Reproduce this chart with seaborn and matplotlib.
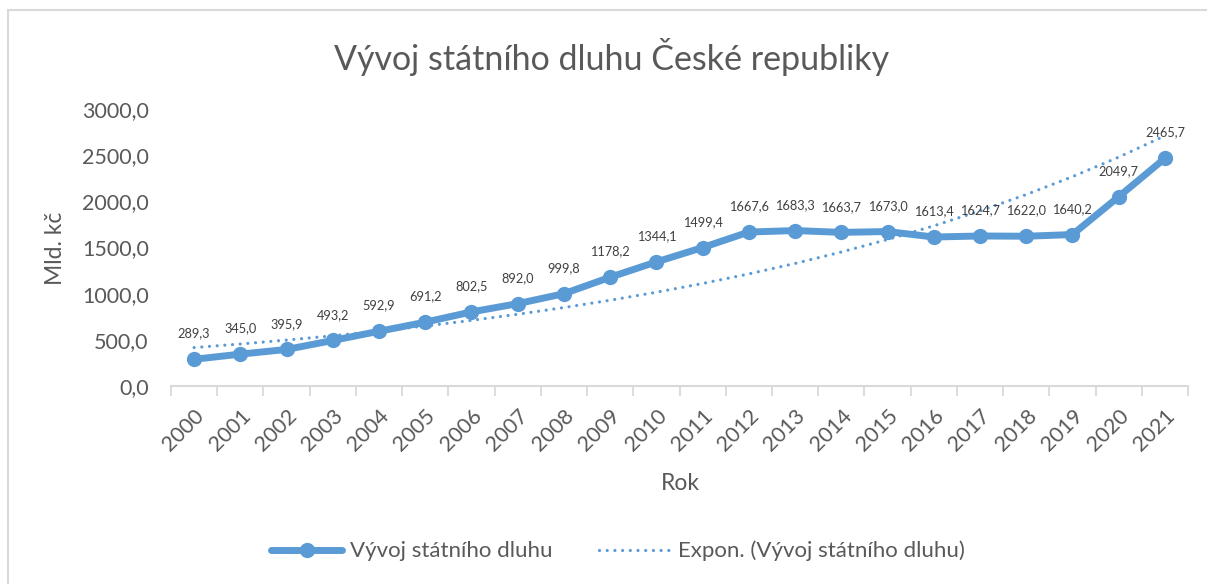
import numpy as np
import pandas as pd
import seaborn as sns
import matplotlib
matplotlib.use("Agg")
import matplotlib.pyplot as plt
from matplotlib.ticker import FuncFormatter, FixedLocator
from matplotlib.patches import Rectangle
from matplotlib.lines import Line2D

years = [str(y) for y in range(2000, 2022)]
debt = [289.3, 345.0, 395.9, 493.2, 592.9, 691.2, 802.5, 892.0, 999.8, 1178.2,
        1344.1, 1499.4, 1667.6, 1683.3, 1663.7, 1673.0, 1613.4, 1624.7, 1622.0,
        1640.2, 2049.7, 2465.7]
title = "Vývoj státního dluhu České republiky"
series_label = "Vývoj státního dluhu"
trend_label = "Expon. (Vývoj státního dluhu)"
x_label = "Rok"
y_label = "Mld. kč"

sns.set_theme(style="white")
plt.rcParams['font.family'] = ['Lato', 'DejaVu Sans']

blue = "#5B9BD5"
txt = "#595959"
dots = (0, (0.01, 2.4))

idx = np.arange(len(years))
df = pd.DataFrame({"pos": idx, "debt": debt})

# exponential trendline (least squares on log values, like Excel)
b, a = np.polyfit(idx + 1, np.log(df["debt"].values), 1)
df["trend"] = np.exp(a) * np.exp(b * (idx + 1))

W, H = 1207, 584
fig = plt.figure(figsize=(W / 100, H / 100), dpi=100)
ax = fig.add_axes([171 / W, 1 - 386 / H, (1188 - 171) / W, (386 - 109) / H])

sns.lineplot(data=df, x="pos", y="trend", ax=ax, color=blue, lw=2.3,
             linestyle=dots)
ax.lines[-1].set_dash_capstyle("round")
sns.lineplot(data=df, x="pos", y="debt", ax=ax, color=blue, lw=5,
             marker="o", markersize=11, markeredgewidth=0)

for i, v in enumerate(debt):
    ax.annotate(f"{v:.1f}".replace(".", ","), (i, v), xytext=(0, 18.5),
                textcoords="offset points", ha="center", va="center",
                fontsize=9.2, color="#404040")

ax.set_xlim(-0.5, len(years) - 0.5)
ax.set_ylim(0, 3000)
ax.set_yticks(np.arange(0, 3001, 500))
ax.yaxis.set_major_formatter(FuncFormatter(lambda v, p: f"{v:.1f}".replace(".", ",")))
ax.set_xticks(idx)
ax.set_xticklabels(years, rotation=45, ha="right", rotation_mode="anchor")
ax.xaxis.set_minor_locator(FixedLocator(np.arange(-0.5, len(years), 1)))
ax.tick_params(axis="x", which="major", length=0, pad=14, labelsize=15.5, labelcolor=txt)
ax.tick_params(axis="x", which="minor", length=7, width=1.3, color="#D9D9D9", bottom=True)
ax.tick_params(axis="y", length=0, pad=16, labelsize=15.5, labelcolor=txt)
ax.set_xlabel("")
ax.set_ylabel("")
for s in ["top", "right", "left"]:
    ax.spines[s].set_visible(False)
ax.spines["bottom"].set_color("#D9D9D9")
ax.spines["bottom"].set_linewidth(1.5)
ax.grid(False)

fig.text(612 / W, 1 - 57 / H, title, ha="center", va="center", fontsize=24.5, color=txt)
fig.text(680 / W, 1 - 483 / H, x_label, ha="center", va="center", fontsize=16.5, color=txt)
fig.text(55 / W, 1 - 248 / H, y_label, ha="center", va="center", fontsize=16.5,
         color=txt, rotation=90)

fig.patches.append(Rectangle((8 / W, -0.2), 1.2, 1.2 - 10 / H, transform=fig.transFigure,
                             fill=False, edgecolor="#D9D9D9", lw=1.5))

handles = [Line2D([], [], color=blue, lw=5, marker="o", markersize=11, markeredgewidth=0),
           Line2D([], [], color=blue, lw=2.3, linestyle=dots, dash_capstyle="round")]
fig.legend(handles, [series_label, trend_label], loc="center",
           bbox_to_anchor=(618 / W, 1 - 551 / H), ncol=2, frameon=False,
           fontsize=16, labelcolor=txt, handlelength=3.2, handletextpad=0.35,
           columnspacing=2.1)

fig.savefig("out.png", dpi=100)
